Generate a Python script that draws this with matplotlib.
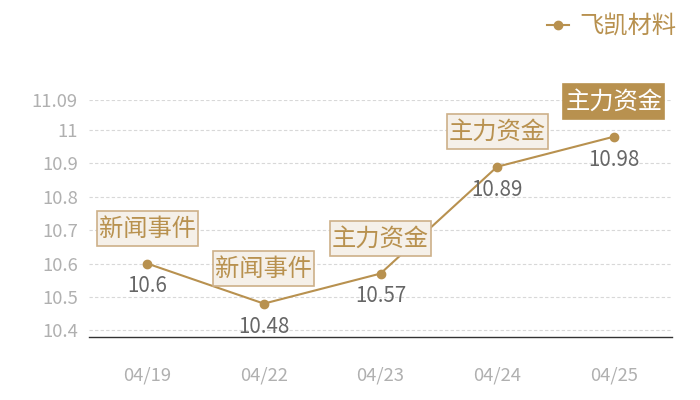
import matplotlib
matplotlib.use("Agg")
import matplotlib.pyplot as plt
import matplotlib.transforms as mtransforms
from matplotlib.patches import Rectangle

plt.rcParams['font.family'] = ['Noto Sans CJK SC', 'DejaVu Sans']

dates = ["04/19", "04/22", "04/23", "04/24", "04/25"]
prices = [10.6, 10.48, 10.57, 10.89, 10.98]
events = ["新闻事件", "新闻事件", "主力资金", "主力资金", "主力资金"]
series_name = "飞凯材料"
yticks = [10.4, 10.5, 10.6, 10.7, 10.8, 10.9, 11.0, 11.09]
ytick_labels = ["10.4", "10.5", "10.6", "10.7", "10.8", "10.9", "11", "11.09"]

gold = "#b8914f"
DPI = 100
fig = plt.figure(figsize=(7, 4), dpi=DPI)
ax = fig.add_axes([89/700, 63/400, (672-89)/700, (337-100)/400])

x = list(range(len(dates)))
ax.plot(x, prices, color=gold, lw=1.5, marker='o', ms=6, zorder=3, label=series_name)

ax.set_xlim(-0.5, len(dates) - 0.5)
ax.set_ylim(10.38, 11.09)
ax.set_yticks(yticks)
ax.set_yticklabels(ytick_labels)
ax.set_xticks(x)
ax.set_xticklabels(dates)
ax.tick_params(axis='both', length=0, colors="#b0b0b0", labelsize=13.3)
ax.tick_params(axis='x', pad=21)
ax.tick_params(axis='y', pad=8)
ax.grid(axis='y', color="#d8d8d8", ls=(0, (3, 2)), lw=0.8)
ax.set_axisbelow(True)
for s in ['top', 'right', 'left']:
    ax.spines[s].set_visible(False)
ax.spines['bottom'].set_color("#333333")
ax.spines['bottom'].set_linewidth(1)

box_w, box_h, box_dy = 101 / DPI, 35 / DPI, 35 / DPI  # inches
for i, (p, ev) in enumerate(zip(prices, events)):
    ax.annotate(f"{p:g}", (i, p), xytext=(0, -16.5), textcoords='offset points',
                ha='center', va='center', fontsize=14.8, color="#666666", zorder=4)
    last = i == len(prices) - 1
    trans = fig.dpi_scale_trans + mtransforms.ScaledTranslation(i, p, ax.transData)
    rect = Rectangle((-box_w / 2, box_dy - box_h / 2), box_w, box_h, transform=trans,
                     fc=gold if last else "#f5f0e9", ec=gold if last else "#cdb089",
                     lw=1.2, zorder=5, clip_on=False)
    ax.add_patch(rect)
    ax.annotate(ev, (i, p), xytext=(0, box_dy * 72), textcoords='offset points',
                ha='center', va='center', fontsize=17.5,
                color="white" if last else gold, zorder=6)

leg = ax.legend(loc='upper right', bbox_to_anchor=(690/700, 1.0), bbox_transform=fig.transFigure,
                frameon=False, fontsize=17.5, labelcolor=gold, handlelength=0.9,
                handletextpad=0.45, borderaxespad=0.15)

fig.savefig("out.png", dpi=DPI)
